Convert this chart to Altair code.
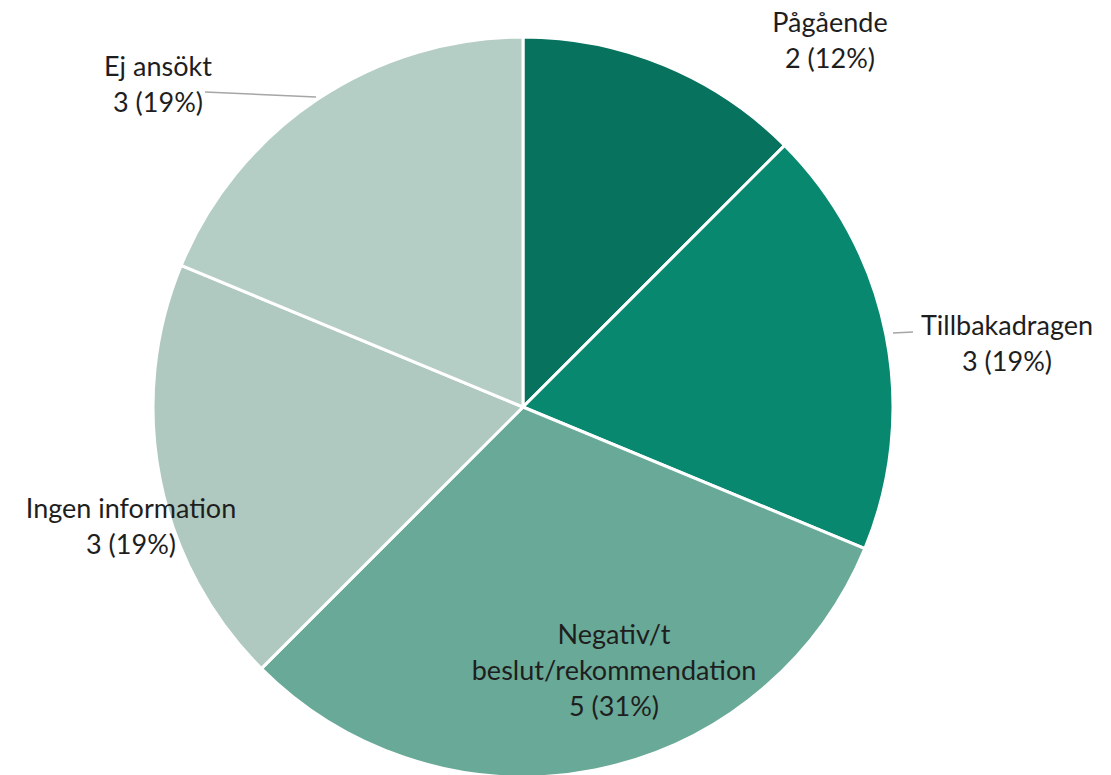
import altair as alt
import pandas as pd

# Data
categories = ["Pågående", "Tillbakadragen", "Negativ/t beslut/rekommendation",
              "Ingen information", "Ej ansökt"]
counts = [2, 3, 5, 3, 3]
label_texts = ["Pågående\n2 (12%)", "Tillbakadragen\n3 (19%)",
               "Negativ/t\nbeslut/rekommendation\n5 (31%)",
               "Ingen information\n3 (19%)", "Ej ansökt\n3 (19%)"]
colors = ["#07735F", "#08896F", "#69A998", "#B0C9C0", "#B5CEC5"]

# Layout (pixel anchors for the annotation labels and leader lines)
CX, CY, R = 523, 407, 370
label_x = [830, 1007, 614, 131, 158]
label_y = [32, 335, 644, 518, 76]
leaders = pd.DataFrame({
    "x": [205, 893], "x2": [316, 913],
    "y": [92, 333], "y2": [97, 332],
})

pie_df = pd.DataFrame({"cat": categories, "value": counts,
                       "order": list(range(len(categories)))})
lab_df = pd.DataFrame({"text": label_texts, "x": label_x, "y": label_y})

pie = alt.Chart(pie_df).mark_arc(radius=R, stroke="white", strokeWidth=3).encode(
    theta=alt.Theta("value:Q", stack=True),
    color=alt.Color("cat:N", scale=alt.Scale(domain=categories, range=colors), legend=None),
    order=alt.Order("order:Q"),
    x=alt.value(CX),
    y=alt.value(CY),
)

lines = alt.Chart(leaders).mark_rule(color="#A6A6A6", strokeWidth=1.5).encode(
    x=alt.X("x:Q", scale=None), x2="x2:Q",
    y=alt.Y("y:Q", scale=None), y2="y2:Q",
)

labels = alt.Chart(lab_df).mark_text(
    font="Lato", fontSize=27, color="#1E1E1E", align="center",
    baseline="alphabetic", lineBreak="\n", lineHeight=36,
).encode(
    x=alt.X("x:Q", scale=None),
    y=alt.Y("y:Q", scale=None),
    text="text:N",
)

chart = alt.layer(pie, lines, labels).properties(
    width=1111, height=775, padding=0, autosize="none", background="white"
).configure_view(stroke=None)

chart.save("out.html", embed_options={"renderer": "svg", "actions": False})
